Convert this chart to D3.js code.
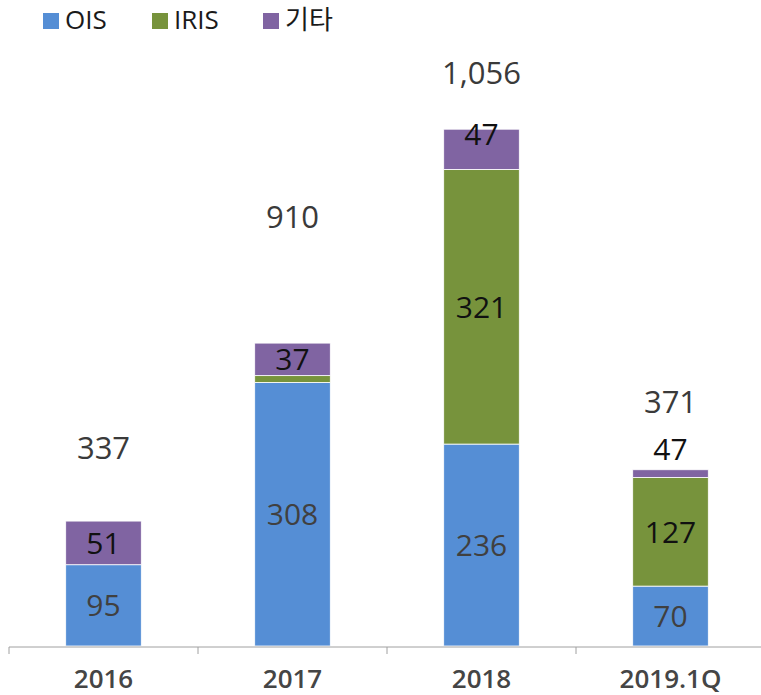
<!DOCTYPE html>
<meta charset="utf-8">
<style>
body {
    margin: 0;
    background: #fff;
    font-family: 'Open Sans', 'Noto Sans CJK KR', sans-serif;
}
.seg {
    stroke: #fff;
    stroke-width: 0.8px;
}
.axis path, .axis line {
    stroke: #a0a0a0;
}
</style>
<body>
<svg width="761" height="695"></svg>
<script src="https://cdn.jsdelivr.net/npm/d3@7/dist/d3.min.js"></script>
<script>

var categories = ["2016", "2017", "2018", "2019.1Q"];
var seriesNames = ["OIS", "IRIS", "기타"];
var ois   = [95, 308, 236, 70];
var iris  = [0, 8, 321, 127];
var other = [51, 38, 47, 9];
var segLabels = [
    ["95", "308", "236", "70"],
    ["", "", "321", "127"],
    ["51", "37", "47", "47"]
];
var totals = ["337", "910", "1,056", "371"];

var colors = ["#558ed5", "#77933c", "#8064a2"];
var labelColors = ["#404040", "#111", "#111"];

var svg = d3.select("svg");

var x = d3.scaleBand()
    .domain(categories)
    .range([9, 765])
    .paddingInner(0.6)
    .paddingOuter(0.3);

var y = d3.scaleLinear()
    .domain([0, 755])
    .range([646, 0]);

var rows = categories.map(function(c, i) {
    return { cat: c, s0: ois[i], s1: iris[i], s2: other[i] };
});

var stack = d3.stack().keys(["s0", "s1", "s2"]);
var layers = stack(rows);

var g = svg.append("g");

layers.forEach(function(layer, k) {
    g.selectAll(".seg" + k)
        .data(layer)
        .enter().append("rect")
        .attr("class", "seg")
        .attr("x", function(d) { return x(d.data.cat); })
        .attr("width", x.bandwidth())
        .attr("y", function(d) { return y(d[1]); })
        .attr("height", function(d) { return y(d[0]) - y(d[1]); })
        .attr("fill", colors[k]);
});

// segment labels; a few sit off-centre like in the original
var nudge = [[0, 0, 0, 0], [0, 0, 0, 0], [0, 0, -15, -24]];
layers.forEach(function(layer, k) {
    g.selectAll(".lab" + k)
        .data(layer)
        .enter().append("text")
        .attr("x", function(d) { return x(d.data.cat) + x.bandwidth() / 2; })
        .attr("y", function(d, i) { return (y(d[0]) + y(d[1])) / 2 + nudge[k][i]; })
        .attr("dy", "0.36em")
        .attr("text-anchor", "middle")
        .style("font-size", "30px")
        .attr("fill", labelColors[k])
        .text(function(d, i) { return segLabels[k][i]; });
});

// total labels floating above each bar
var totalGap = [73, 126, 56, 68];
var topLayer = layers[2];
g.selectAll(".total")
    .data(topLayer)
    .enter().append("text")
    .attr("class", "total")
    .attr("x", function(d) { return x(d.data.cat) + x.bandwidth() / 2; })
    .attr("y", function(d, i) { return y(d[1]) - totalGap[i]; })
    .attr("dy", "0.36em")
    .attr("text-anchor", "middle")
    .style("font-size", "31px")
    .attr("fill", "#3a3a3a")
    .text(function(d, i) { return totals[i]; });

// x axis with tick marks between categories
var axis = svg.append("g")
    .attr("class", "axis")
    .attr("transform", "translate(0,647)");

axis.append("line")
    .attr("x1", 9).attr("x2", 761)
    .attr("y1", 0).attr("y2", 0);

axis.selectAll(".tick")
    .data(categories)
    .enter().append("line")
    .attr("x1", function(d) { return x(d) - x.step() * 0.3; })
    .attr("x2", function(d) { return x(d) - x.step() * 0.3; })
    .attr("y1", 0).attr("y2", 7);

axis.selectAll(".xl")
    .data(categories)
    .enter().append("text")
    .attr("x", function(d) { return x(d) + x.bandwidth() / 2; })
    .attr("y", 41)
    .attr("text-anchor", "middle")
    .style("font-size", "26px")
    .style("font-weight", "600")
    .attr("fill", "#454545")
    .text(function(d) { return d; });

// legend
var legendX = [43, 152, 263];
var legend = svg.append("g");
seriesNames.forEach(function(name, k) {
    legend.append("rect")
        .attr("x", legendX[k]).attr("y", 13)
        .attr("width", 16).attr("height", 16)
        .attr("fill", colors[k]);
    legend.append("text")
        .attr("x", legendX[k] + 22).attr("y", 29)
        .style("font-size", "26px")
        .attr("fill", "#1a1a1a")
        .text(name);
});

</script>
</body>
